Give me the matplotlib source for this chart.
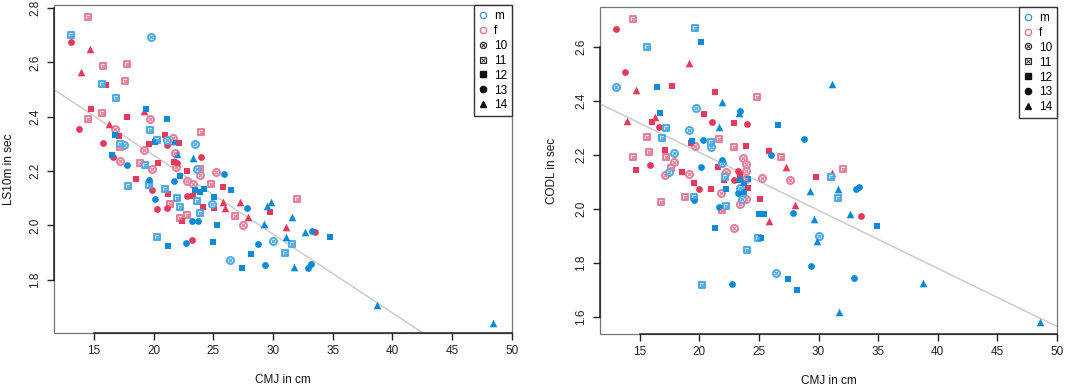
import numpy as np
import matplotlib.pyplot as plt
from matplotlib.lines import Line2D
from matplotlib.patches import Rectangle

plt.rcParams['font.family'] = ['Liberation Sans', 'DejaVu Sans']

# ==== DATA: left panel, LS10m vs CMJ ====
ls_cmj = [13.1, 14.5, 13.1, 14.7, 13.9, 19.75, 15.75, 17.8, 17.6, 15.7,
          16.0, 16.9, 14.8, 15.7, 14.5, 13.75, 16.25, 16.75, 17.1, 16.8,
          15.8, 17.75, 17.2, 17.5, 17.2, 16.5, 16.6, 17.2, 17.75, 18.55,
          17.9, 19.4, 19.2, 19.7, 19.7, 19.2, 18.9, 19.3, 19.9, 19.6,
          19.6, 20.1, 20.3, 19.6, 21.1, 21.0, 21.1, 21.1, 21.6, 21.7,
          22.1, 21.8, 22.0, 21.7, 22.0, 20.4, 21.9, 22.2, 21.7, 22.8,
          22.8, 23.3, 23.5, 24.0, 23.3, 24.0, 23.6, 23.9, 23.9, 24.8,
          25.25, 25.9, 25.8, 26.5, 20.1, 20.3, 21.0, 21.25, 22.0, 21.4,
          22.2, 22.2, 22.35, 22.8, 23.3, 23.5, 23.9, 24.2, 23.6, 24.1,
          22.8, 23.9, 23.25, 23.75, 25.3, 24.9, 25.1, 25.1, 25.8, 26.0,
          26.8, 27.5, 27.25, 27.8, 27.9, 29.25, 29.8, 29.5, 29.75, 31.6,
          32.0, 31.1, 32.7, 30.0, 31.1, 31.6, 28.75, 20.25, 21.25, 22.75,
          23.25, 25.0, 26.4, 27.4, 28.2, 29.3, 33.3, 33.5, 34.8, 31.0,
          31.75, 32.9, 33.2, 38.7, 48.4, 19.9, 21.1]
ls_time = [2.70, 2.767, 2.675, 2.65, 2.563, 2.693, 2.585, 2.593, 2.533, 2.519,
           2.516, 2.47, 2.43, 2.415, 2.39, 2.356, 2.375, 2.333, 2.33, 2.355,
           2.305, 2.40, 2.30, 2.296, 2.29, 2.26, 2.253, 2.237, 2.222, 2.17,
           2.144, 2.43, 2.42, 2.39, 2.352, 2.277, 2.23, 2.222, 2.208, 2.15,
           2.166, 2.307, 2.314, 2.30, 2.39, 2.333, 2.314, 2.295, 2.322, 2.31,
           2.305, 2.268, 2.263, 2.235, 2.23, 2.23, 2.215, 2.18, 2.163, 2.20,
           2.165, 2.152, 2.30, 2.342, 2.247, 2.25, 2.206, 2.206, 2.185, 2.152,
           2.196, 2.19, 2.14, 2.13, 2.096, 2.06, 2.133, 2.115, 2.10, 2.078,
           2.067, 2.026, 2.015, 2.11, 2.11, 2.13, 2.122, 2.133, 2.089, 2.067,
           2.037, 2.044, 2.015, 2.015, 2.0, 2.078, 2.104, 2.063, 2.085, 2.063,
           2.033, 2.0, 2.085, 2.063, 2.03, 2.004, 2.085, 2.07, 2.048, 2.03,
           2.096, 1.993, 1.974, 1.944, 1.956, 1.93, 1.933, 1.956, 1.926, 1.937,
           1.948, 1.94, 1.874, 1.844, 1.896, 1.856, 1.978, 1.974, 1.956, 1.90,
           1.848, 1.844, 1.859, 1.707, 1.641, 2.13, 2.063]
ls_sex = ['m', 'f', 'f', 'f', 'f', 'm', 'f', 'f', 'f', 'm',
          'f', 'm', 'f', 'f', 'f', 'f', 'f', 'm', 'f', 'f',
          'f', 'f', 'm', 'm', 'f', 'm', 'f', 'f', 'm', 'f',
          'm', 'm', 'f', 'f', 'm', 'f', 'f', 'm', 'f', 'm',
          'm', 'm', 'm', 'f', 'm', 'f', 'm', 'f', 'f', 'm',
          'f', 'f', 'm', 'f', 'f', 'f', 'f', 'm', 'm', 'f',
          'f', 'f', 'm', 'f', 'm', 'f', 'm', 'f', 'f', 'f',
          'f', 'm', 'f', 'm', 'm', 'f', 'm', 'f', 'm', 'f',
          'm', 'f', 'f', 'f', 'f', 'm', 'm', 'm', 'm', 'f',
          'f', 'm', 'm', 'm', 'm', 'm', 'm', 'f', 'f', 'f',
          'f', 'f', 'f', 'm', 'f', 'm', 'm', 'm', 'f', 'm',
          'f', 'f', 'm', 'm', 'm', 'm', 'm', 'm', 'm', 'm',
          'f', 'm', 'm', 'm', 'm', 'm', 'm', 'f', 'm', 'm',
          'm', 'm', 'm', 'm', 'm', 'f', 'f']
ls_age = [11, 11, 13, 14, 14, 10, 11, 11, 11, 11,
          12, 11, 12, 11, 11, 13, 14, 12, 12, 10,
          13, 12, 11, 10, 11, 12, 13, 10, 13, 12,
          11, 12, 14, 10, 11, 10, 11, 11, 10, 11,
          13, 12, 11, 12, 12, 12, 10, 13, 10, 14,
          12, 10, 14, 12, 13, 12, 10, 12, 13, 12,
          10, 10, 10, 11, 14, 13, 10, 11, 10, 11,
          10, 13, 12, 12, 13, 13, 11, 12, 11, 11,
          11, 11, 12, 13, 12, 12, 12, 12, 11, 12,
          11, 11, 13, 13, 12, 10, 12, 12, 14, 14,
          11, 10, 14, 13, 14, 14, 14, 14, 12, 14,
          11, 14, 14, 10, 14, 11, 13, 11, 12, 13,
          13, 12, 10, 12, 12, 13, 13, 13, 12, 11,
          14, 13, 13, 14, 14, 13, 13]

# ==== DATA: right panel, CODL vs CMJ ====
codl_cmj = [13.05, 14.44, 15.6, 13.74, 13.05, 14.67, 13.9, 16.45, 17.7, 16.7,
            16.25, 16.0, 16.6, 17.2, 15.65, 16.9, 14.44, 15.75, 14.72, 15.84,
            17.85, 17.1, 17.2, 17.9, 17.6, 17.46, 17.15, 19.67, 20.1, 19.17,
            21.3, 21.9, 24.87, 19.75, 20.36, 23.44, 23.33, 21.65, 21.06, 22.9,
            24.0, 26.57, 19.13, 19.4, 19.3, 19.67, 20.3, 21.0, 21.0, 21.65,
            22.9, 23.9, 25.98, 26.87, 27.24, 27.57, 25.84, 20.1, 21.9, 21.6,
            23.66, 22.2, 22.15, 22.07, 22.9, 23.27, 23.9, 23.9, 23.4, 23.44,
            24.07, 23.75, 18.55, 19.13, 19.95, 19.55, 20.95, 21.85, 22.2, 23.24,
            23.74, 24.07, 18.83, 19.55, 25.06, 16.76, 19.53, 21.65, 21.87, 22.2,
            23.38, 23.95, 25.0, 25.4, 25.84, 27.85, 27.99, 21.3, 22.88, 24.9,
            25.15, 23.97, 26.45, 27.46, 28.2, 20.26, 22.77, 29.59, 30.03, 29.86,
            29.33, 32.66, 33.58, 34.87, 32.97, 38.75, 31.76, 48.6, 31.6, 29.25,
            31.15, 28.77, 29.75, 32.04, 31.15, 31.07, 31.6, 33.16, 33.36, 23.95,
            25.25, 21.9, 23.45, 23.6]
codl_time = [2.666, 2.704, 2.60, 2.509, 2.453, 2.44, 2.326, 2.453, 2.456, 2.357,
             2.342, 2.321, 2.305, 2.299, 2.268, 2.262, 2.194, 2.21, 2.144, 2.163,
             2.209, 2.219, 2.194, 2.175, 2.153, 2.138, 2.126, 2.671, 2.619, 2.542,
             2.432, 2.395, 2.416, 2.375, 2.352, 2.364, 2.354, 2.303, 2.321, 2.32,
             2.314, 2.312, 2.293, 2.253, 2.243, 2.234, 2.256, 2.247, 2.229, 2.258,
             2.231, 2.234, 2.199, 2.193, 2.157, 2.106, 2.216, 2.156, 2.181, 2.157,
             2.19, 2.138, 2.117, 2.106, 2.106, 2.142, 2.14, 2.11, 2.126, 2.107,
             2.11, 2.098, 2.136, 2.13, 2.073, 2.095, 2.075, 2.058, 2.074, 2.058,
             2.062, 2.077, 2.046, 2.043, 2.036, 2.027, 2.033, 2.009, 1.996, 2.011,
             2.017, 2.037, 1.98, 1.98, 1.957, 1.986, 2.015, 1.931, 1.931, 1.894,
             1.894, 1.848, 1.762, 1.74, 1.699, 1.719, 1.722, 1.963, 1.90, 1.881,
             1.79, 1.981, 1.974, 1.938, 1.746, 1.727, 1.62, 1.583, 2.04, 2.066,
             2.463, 2.258, 2.117, 2.147, 2.132, 2.117, 2.074, 2.073, 2.08, 2.167,
             2.116, 2.169, 2.077, 2.036]
codl_sex = ['f', 'f', 'm', 'f', 'm', 'f', 'f', 'm', 'f', 'm',
            'f', 'f', 'f', 'm', 'f', 'm', 'f', 'f', 'f', 'f',
            'm', 'f', 'f', 'f', 'f', 'm', 'f', 'm', 'm', 'f',
            'f', 'm', 'f', 'm', 'f', 'm', 'm', 'm', 'f', 'f',
            'f', 'm', 'm', 'm', 'f', 'f', 'm', 'm', 'm', 'f',
            'f', 'f', 'm', 'f', 'f', 'f', 'f', 'm', 'm', 'f',
            'f', 'f', 'm', 'f', 'f', 'f', 'f', 'f', 'f', 'm',
            'm', 'm', 'f', 'f', 'f', 'f', 'f', 'f', 'm', 'm',
            'm', 'f', 'f', 'm', 'f', 'f', 'm', 'm', 'f', 'm',
            'f', 'f', 'm', 'm', 'f', 'm', 'f', 'm', 'f', 'm',
            'm', 'm', 'm', 'm', 'm', 'm', 'm', 'm', 'm', 'm',
            'm', 'm', 'f', 'm', 'm', 'm', 'm', 'm', 'm', 'm',
            'm', 'm', 'f', 'f', 'f', 'm', 'm', 'm', 'm', 'f',
            'f', 'm', 'm', 'm']
codl_age = [13, 11, 11, 13, 10, 14, 14, 12, 12, 12,
            14, 12, 13, 11, 11, 11, 11, 11, 12, 13,
            10, 12, 11, 10, 11, 10, 10, 11, 12, 14,
            12, 14, 11, 10, 12, 13, 14, 14, 13, 12,
            13, 12, 10, 12, 12, 10, 13, 11, 10, 11,
            11, 12, 13, 11, 14, 10, 12, 13, 13, 12,
            10, 10, 11, 12, 13, 13, 10, 10, 12, 12,
            12, 12, 12, 10, 13, 12, 12, 10, 12, 13,
            12, 12, 11, 11, 12, 11, 13, 13, 11, 11,
            10, 10, 12, 12, 14, 13, 14, 12, 10, 11,
            12, 11, 10, 12, 12, 11, 13, 14, 10, 14,
            13, 14, 13, 12, 13, 14, 14, 14, 11, 14,
            14, 13, 12, 11, 14, 11, 14, 13, 13, 10,
            10, 10, 10, 10]

# regression lines (intercept, slope)
ls_fit = (2.838, -0.0290)
codl_fit = (2.640, -0.0215)

sex_labels = ['m', 'f']
age_labels = [10, 11, 12, 13, 14]

col = {'m': '#0b8ad8', 'f': '#e8385b'}
col_light = {'m': '#4eaae2', 'f': '#e47f99'}
shape = {10: 'o', 11: 's', 12: 's', 13: 'o', 14: '^'}
size = {10: 26, 11: 24, 12: 22, 13: 24, 14: 30}


def draw(ax, cmj, t, sex, age, fit, ylim, yticks, ylabel, ylab_x):
    cmj = np.array(cmj)
    t = np.array(t)
    sex = np.array(sex)
    age = np.array(age)

    ax.axline((0, fit[0]), slope=fit[1], color='#cccccc', lw=1.1, zorder=1)

    for s in ['f', 'm']:
        for a in age_labels:
            k = (sex == s) & (age == a)
            if not k.any():
                continue
            if a in (10, 11):
                ax.scatter(cmj[k], t[k], marker=shape[a], s=size[a], facecolor='white',
                           edgecolor=col_light[s], linewidth=1.4, zorder=3)
                ax.scatter(cmj[k], t[k], marker='x', s=8, color=col_light[s],
                           linewidth=0.9, zorder=4)
            else:
                ax.scatter(cmj[k], t[k], marker=shape[a], s=size[a], color=col[s],
                           linewidth=0, zorder=3)

    ax.set_xlim(11.67, 50)
    ax.set_ylim(ylim)
    ax.set_xticks(range(15, 55, 5))
    ax.set_yticks(yticks)
    ax.set_yticklabels([f'{v:.1f}' for v in yticks])
    ax.tick_params(direction='out', length=5, width=1, labelsize=8.5, colors='#222222', pad=4)
    ax.tick_params(axis='y', labelrotation=90)
    for lab in ax.get_yticklabels():
        lab.set_va('center')

    # R-like axes: dark axis lines over the tick range, light box around
    for side in ['top', 'right']:
        ax.spines[side].set_visible(False)
    ax.spines['left'].set_bounds(yticks[0], yticks[-1])
    ax.spines['bottom'].set_bounds(15, 50)
    for side in ['left', 'bottom']:
        ax.spines[side].set_color('#222222')
        ax.spines[side].set_linewidth(1.1)
    ax.add_patch(Rectangle((0, 0), 1, 1, transform=ax.transAxes, fill=False,
                           ec='#777777', lw=0.9, clip_on=False, zorder=0))

    ax.set_xlabel('CMJ in cm', fontsize=8.5, color='#111111')
    ax.xaxis.set_label_coords(0.5, -0.125)
    ax.set_ylabel(ylabel, fontsize=8.5, color='#111111')
    ax.yaxis.set_label_coords(ylab_x, 0.5)

    # legend (tuples are drawn on top of each other)
    hm = Line2D([], [], ls='', marker='o', mfc='none', mec='#3f95d0', ms=4.5, mew=0.9)
    hf = Line2D([], [], ls='', marker='o', mfc='none', mec='#cf7089', ms=4.5, mew=0.9)
    h10 = (Line2D([], [], ls='', marker='o', mfc='none', mec='#222222', ms=4.5, mew=0.8),
           Line2D([], [], ls='', marker='x', color='#222222', ms=2.5, mew=0.7))
    h11 = (Line2D([], [], ls='', marker='s', mfc='none', mec='#222222', ms=4.2, mew=0.8),
           Line2D([], [], ls='', marker='x', color='#222222', ms=2.5, mew=0.7))
    h12 = Line2D([], [], ls='', marker='s', color='#111111', ms=4.2)
    h13 = Line2D([], [], ls='', marker='o', color='#111111', ms=4.5)
    h14 = Line2D([], [], ls='', marker='^', color='#111111', ms=5)
    handles = [hm, hf, h10, h11, h12, h13, h14]
    labels = sex_labels + [str(a) for a in age_labels]
    leg = ax.legend(handles, labels, loc='upper right', borderaxespad=0, fancybox=False,
                    edgecolor='#333333', framealpha=1, fontsize=8.5, handlelength=0.8,
                    handletextpad=0.5, labelspacing=0.25, borderpad=0.4)
    leg.get_frame().set_linewidth(1.0)


fig = plt.figure(figsize=(10.65, 3.89), dpi=100)
ax1 = fig.add_axes([0.0507, 0.144, 0.430, 0.843])
ax2 = fig.add_axes([0.5634, 0.1414, 0.429, 0.8406])

draw(ax1, ls_cmj, ls_time, ls_sex, ls_age, ls_fit, (1.604, 2.811),
     [1.8, 2.0, 2.2, 2.4, 2.6, 2.8], 'LS10m in sec', -0.085)
draw(ax2, codl_cmj, codl_time, codl_sex, codl_age, codl_fit, (1.537, 2.748),
     [1.6, 1.8, 2.0, 2.2, 2.4, 2.6], 'CODL in sec', -0.092)

fig.savefig('out.png', dpi=100)
